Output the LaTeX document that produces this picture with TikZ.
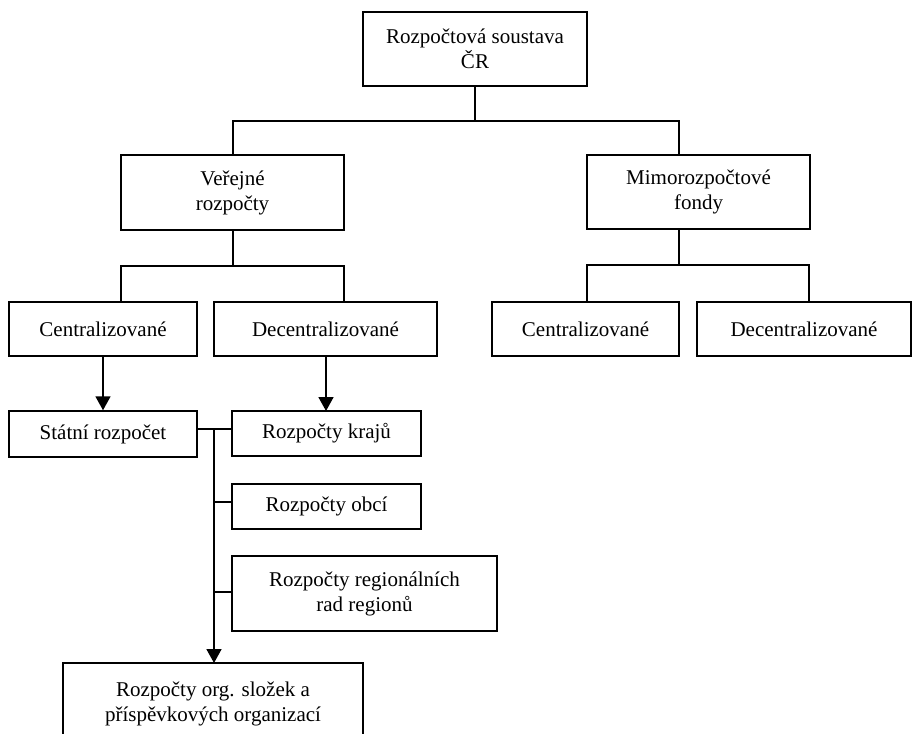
\documentclass[tikz,border=0pt]{standalone}
\usepackage{fontspec}
\setmainfont{Liberation Serif}
\usetikzlibrary{arrows.meta}
\begin{document}
\begin{tikzpicture}[x=1pt,y=-1pt,
  box/.style={draw,line width=1.5pt,rectangle,inner sep=0pt,align=center,
    font=\fontsize{21}{25}\selectfont},
  link/.style={line width=1.5pt},
  arr/.style={line width=1.7pt,-{Triangle[width=15pt,length=14pt]}}]
\useasboundingbox (0,0) rectangle (912,733);
\clip (0,0) rectangle (912,733);
\fill[white] (0,0) rectangle (912,733);
% boxes
\node[box,minimum width=224pt,minimum height=74pt] (top) at (475,49) {Rozpočtová soustava\\ČR};
\node[box,minimum width=223pt,minimum height=75pt] (ver) at (232.5,192.5) {Veřejné\\rozpočty};
\node[box,minimum width=223pt,minimum height=74pt] (mim) at (698.5,192) {Mimorozpočtové\\fondy};
\node[box,minimum width=188pt,minimum height=54pt] (c1) at (103,329) {Centralizované};
\node[box,minimum width=223pt,minimum height=54pt] (d1) at (325.5,329) {Decentralizované};
\node[box,minimum width=187pt,minimum height=54pt] (c2) at (585.5,329) {Centralizované};
\node[box,minimum width=214pt,minimum height=54pt] (d2) at (804,329) {Decentralizované};
\node[box,minimum width=188pt,minimum height=46pt] (sr) at (103,434) {Státní rozpočet};
\node[box,minimum width=189pt,minimum height=45pt] (kr) at (326.5,433.5) {Rozpočty krajů};
\node[box,minimum width=189pt,minimum height=45pt] (ob) at (326.5,506.5) {Rozpočty obcí};
\node[box,minimum width=265pt,minimum height=75pt] (rg) at (364.5,593.5) {Rozpočty regionálních\\rad regionů};
\node[box,minimum width=300pt,minimum height=82pt] (org) at (213,704) {Rozpočty org. složek a\\příspěvkových organizací};
% coordinates
\coordinate (bar1) at (475,121);
\coordinate (vtop) at (233,155);
\coordinate (vbot) at (233,230);
\coordinate (mtop) at (679,155);
\coordinate (bar2) at (233,266);
\coordinate (c1top) at (121,302);
\coordinate (d1top) at (344,302);
\coordinate (mbot) at (679,229);
\coordinate (bar3) at (679,265);
\coordinate (c2top) at (587,302);
\coordinate (d2top) at (809,302);
\coordinate (d1arr) at (326,356);
\coordinate (krN) at (326,411);
\coordinate (srE) at (197,429);
\coordinate (krW) at (232,429);
\coordinate (spine) at (214,429);
\coordinate (obW) at (232,502);
\coordinate (rgW) at (232,592);
\coordinate (orgN) at (214,663);
% connectors
\draw[link] (top.south) -- (bar1);
\draw[link] (vtop) |- (bar1);
\draw[link] (mtop) |- (bar1);
\draw[link] (vbot) -- (bar2);
\draw[link] (c1top) |- (bar2);
\draw[link] (d1top) |- (bar2);
\draw[link] (mbot) -- (bar3);
\draw[link] (c2top) |- (bar3);
\draw[link] (d2top) |- (bar3);
\draw[arr] (c1.south) -- (sr.north);
\draw[arr] (d1arr) -- (krN);
\draw[link] (srE) -- (krW);
\draw[link] (obW) -| (spine);
\draw[link] (rgW) -| (spine);
\draw[arr] (spine) -- (orgN);
\end{tikzpicture}
\end{document}
